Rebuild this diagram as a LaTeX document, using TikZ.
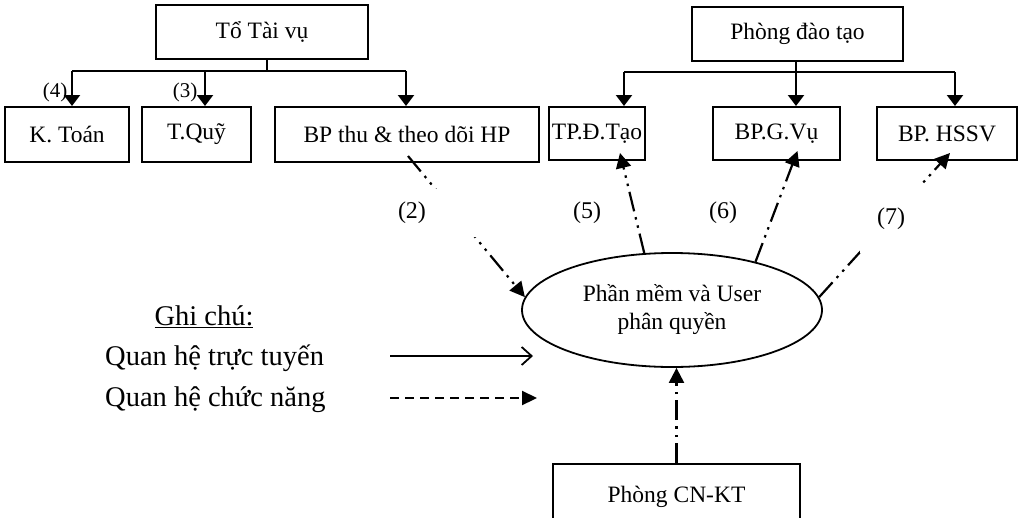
\documentclass[tikz,border=0pt]{standalone}
\usepackage{fontspec}
\setmainfont{Liberation Serif}
\usetikzlibrary{arrows.meta,shapes.geometric,calc}
\newcommand{\fsbox}{\fontsize{23.5pt}{28pt}\selectfont}
\newcommand{\fslbl}{\fontsize{24pt}{28pt}\selectfont}
\newcommand{\fssmall}{\fontsize{21pt}{24pt}\selectfont}
\newcommand{\fsleg}{\fontsize{28.5pt}{32pt}\selectfont}
\tikzset{
  box/.style={draw, line width=2pt, inner sep=2pt, font=\fsbox},
  tree/.style={line width=2.2pt},
  treearr/.style={line width=2.2pt, -{Triangle[length=11pt,width=16pt]}},
  fn/.style={line width=2.2pt, dash pattern=on 20pt off 6pt on 2.5pt off 6pt on 2.5pt off 6pt, -{Triangle[length=15pt,width=15pt]}},
  lbl/.style={font=\fslbl, inner sep=0pt},
}
\begin{document}
\begin{tikzpicture}[x=1pt,y=-1pt]
\useasboundingbox (0,0) rectangle (1020,517);
\clip (0,0) rectangle (1020,517);
\fill[white] (0,0) rectangle (1020,517);
% boxes
\node[box, minimum width=212pt, minimum height=54pt] (tv) at (262,32) {Tổ Tài vụ};
\node[box, minimum width=124pt, minimum height=55pt] (kt) at (67,134.5) {K. Toán};
\node[box, minimum width=109pt, minimum height=55pt] (tq) at (196.5,134.5) {T.Quỹ};
\node[box, minimum width=264pt, minimum height=55pt] (bp) at (407,134.5) {BP thu \& theo dõi HP};
\node[box, minimum width=211pt, minimum height=54pt] (pdt) at (797.5,34) {Phòng đào tạo};
\node[box, minimum width=96pt, minimum height=53pt] (tp) at (597,133.5) {TP.Đ.Tạo};
\node[box, minimum width=127pt, minimum height=53pt] (gv) at (776.5,133.5) {BP.G.Vụ};
\node[box, minimum width=140pt, minimum height=53pt] (hs) at (947,133.5) {BP. HSSV};
\node[box, minimum width=247pt, minimum height=66pt] (cn) at (676.5,497) {Phòng CN-KT};
\node[draw, ellipse, line width=1.8pt, minimum width=300pt, minimum height=114pt, inner sep=0pt, align=center, font=\fsbox] (ell) at (672,310) {\fontsize{23.5pt}{33pt}\selectfont Phần mềm và User\\ phân quyền};
% left tree
\coordinate (b1) at (72,71);
\coordinate (b2) at (205,71);
\coordinate (b3) at (406,71);
\draw[tree] ([xshift=5pt]tv.south) -- ([xshift=5pt]tv.south |- b1);
\draw[tree] (b1) -- (b3);
\draw[treearr] (b1) -- (b1 |- kt.north);
\draw[treearr] (b2) -- (b2 |- tq.north);
\draw[treearr] (b3) -- (b3 |- bp.north);
% right tree
\coordinate (c1) at (624,72);
\coordinate (c2) at (796,72);
\coordinate (c3) at (955,72);
\draw[tree] ([xshift=-1.5pt]pdt.south) -- (c2);
\draw[tree] (c1) -- (c3);
\draw[treearr] (c1) -- (c1 |- tp.north);
\draw[treearr] (c2) -- (c2 |- gv.north);
\draw[treearr] (c3) -- (c3 |- hs.north);
% functional links
\draw[fn] ([xshift=1pt,yshift=7pt]bp.south) -- (ell.175);
\draw[fn] (ell.116) -- ([xshift=23pt,yshift=8pt]tp.south);
\draw[fn] (ell.30.6) -- ([xshift=21pt,yshift=10pt]gv.south);
\draw[fn] (ell.5) -- ([xshift=3pt,yshift=8pt]hs.south);
\draw[fn] (cn.north) -- (cn.north |- ell.south);
% labels
\node[lbl, fill=white, text width=77pt, minimum height=48pt, align=left, inner sep=3pt] (l2) at (436.5,213) {(2)};
\node[lbl, fill=white, minimum width=62pt, minimum height=68pt] (l7) at (891,219) {(7)};
\node[lbl] (l5) at (587,213) {(5)};
\node[lbl] (l6) at (723,213) {(6)};
\node[lbl, font=\fssmall] (l4) at (55,92) {(4)};
\node[lbl, font=\fssmall] (l3) at (185,92) {(3)};
% legend
\node[font=\fsleg, anchor=base, inner sep=0pt] (gc) at (204,325) {\underline{Ghi chú:}};
\node[font=\fsleg, anchor=base west, inner sep=0pt] (q1) at (105,365) {Quan hệ trực tuyến};
\node[font=\fsleg, anchor=base west, inner sep=0pt] (q2) at (105,406) {Quan hệ chức năng};
\coordinate (s1) at (390,356);
\coordinate (e1) at (533,356);
\coordinate (s2) at (390,398);
\coordinate (e2) at (537,398);
\draw[line width=2.2pt, -{Straight Barb[length=10pt,width=18pt,line width=1.8pt]}] (s1) -- (e1);
\draw[line width=2.2pt, dash pattern=on 9pt off 6pt, -{Triangle[length=15pt,width=14pt]}] (s2) -- (e2);
\end{tikzpicture}
\end{document}
